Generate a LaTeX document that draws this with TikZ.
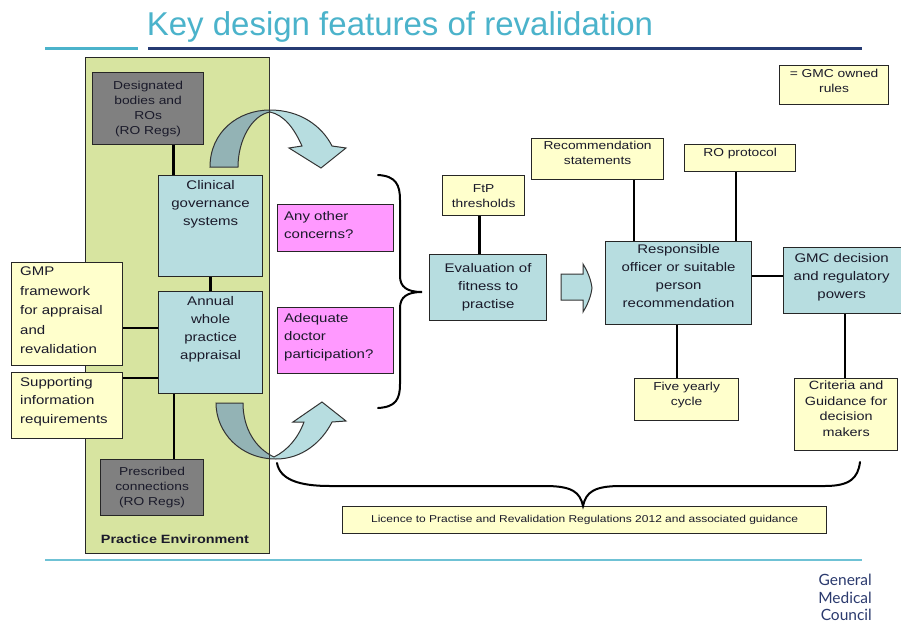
\documentclass[tikz,border=0pt]{standalone}
\usepackage{fontspec}
\setmainfont{Liberation Sans}
\newfontfamily\bxfont[FakeStretch=1.2]{Liberation Sans}
\newfontfamily\logofont{Lato}
\usetikzlibrary{calc}
\definecolor{penv}{HTML}{D7E4A0}
\definecolor{lblue}{HTML}{B7DDE0}
\definecolor{dteal}{HTML}{93B3B5}
\definecolor{gbox}{HTML}{808080}
\definecolor{ybox}{HTML}{FFFFCC}
\definecolor{pbox}{HTML}{FF99FF}
\definecolor{titlec}{HTML}{4BB3CB}
\definecolor{navy}{HTML}{263B73}
\definecolor{logoc}{HTML}{2B3A6E}
\definecolor{txt}{HTML}{1A1A2A}
\tikzset{
  box/.style={draw=black!85, line width=1.2pt, inner sep=0pt, anchor=north west, align=center, text=txt},
  yb/.style={box, fill=ybox},
  bb/.style={box, fill=lblue},
  gb/.style={box, fill=gbox},
  pb/.style={box, fill=pbox},
  small/.style={font=\bxfont\fontsize{11.5}{15}\selectfont},
  big/.style={font=\bxfont\fontsize{12.5}{18}\selectfont},
  tx/.style={inner sep=0pt, text=txt, align=center},
  link/.style={line width=2.6pt, black},
  brace/.style={line width=2pt, black, line cap=round},
  outl/.style={line width=1pt, black!80}
}
\begin{document}
\begin{tikzpicture}[x=1pt,y=-1pt]
\useasboundingbox (0,0) rectangle (901,624);
\fill[white] (0,0) rectangle (901,624);

% title and rules
\node[anchor=base, text=titlec, font=\fontsize{33}{36}\selectfont, inner sep=0pt] (title) at (400,35) {Key design features of revalidation};
\coordinate (l1a) at (45,48); \coordinate (l1b) at (138,48);
\coordinate (l2a) at (148,48); \coordinate (l2b) at (862,48);
\draw[titlec, line width=3pt] (l1a) -- (l1b);
\draw[navy, line width=3pt] (l2a) -- (l2b);
\coordinate (l3a) at (45,560); \coordinate (l3b) at (862,560);
\draw[titlec!80, line width=1.5pt] (l3a) -- (l3b);

% practice environment
\node[box, fill=penv, minimum width=184pt, minimum height=496pt] (pe) at (85,57) {};
\node[tx, font=\bxfont\bfseries\fontsize{12}{14}\selectfont, anchor=base] (pelab) at (175,543) {Practice Environment};

% curved arrows
\def\toparrow{(210,167) .. controls (210,132) and (238,110) .. (270,110) .. controls (300,110) and (322,126) .. (332,146) -- (346,148) -- (321,168) -- (289,148) -- (302,146) .. controls (294,128) and (284,115) .. (270,112) .. controls (252,115) and (238,140) .. (238,167) -- cycle}
\def\botarrow{(216,403) -- (243,403) .. controls (243,428) and (255,448) .. (274,457) .. controls (288,450) and (298,438) .. (304,422) -- (293,422) -- (322,402) -- (346,421) -- (332,422) .. controls (322,442) and (302,459) .. (276,459) .. controls (240,459) and (216,432) .. (216,403) -- cycle}
\fill[lblue] \toparrow;
\fill[lblue] \botarrow;
\begin{scope}
\clip (85,57) rectangle (269,553);
\fill[dteal] \toparrow;
\fill[dteal] \botarrow;
\end{scope}
\draw[outl] \toparrow;
\draw[outl] \botarrow;
\draw[black!80, line width=1pt] (269,57) -- (269,553);

% left boxes
\node[gb, small, minimum width=111pt, minimum height=72pt] (des) at (92,72) {Designated\\bodies and\\ROs\\(RO Regs)};
\node[bb, minimum width=104pt, minimum height=101pt] (cg) at (158,175) {};
\node[tx, big, anchor=north] (cgt) at ($(cg.north)+(0,5)$) {Clinical\\governance\\systems};
\node[bb, minimum width=104pt, minimum height=102pt] (awp) at (158,291) {};
\node[tx, big, anchor=north] (awpt) at ($(awp.north)+(0,5)$) {Annual\\whole\\practice\\appraisal};
\node[yb, minimum width=111pt, minimum height=103pt] (gmp) at (11,262) {};
\node[tx, anchor=north west, align=left, font=\bxfont\fontsize{12.5}{19.5}\selectfont] (gmpt) at ($(gmp.north west)+(9,5)$) {GMP\\framework\\for appraisal\\and\\revalidation};
\node[yb, minimum width=111pt, minimum height=66pt] (sup) at (11,372) {};
\node[tx, anchor=north west, align=left, font=\bxfont\fontsize{12.5}{18.5}\selectfont] (supt) at ($(sup.north west)+(9,5)$) {Supporting\\information\\requirements};
\node[gb, small, minimum width=103pt, minimum height=56pt] (pre) at (100,459) {Prescribed\\connections\\(RO Regs)};

\draw[link] ([xshift=25.5pt]des.south) -- ([xshift=25.5pt]des.south |- cg.north);
\draw[link] ([xshift=-0pt]cg.south) -- (awp.north);
\draw[link] (gmp.east |- 0,328) -- (awp.west |- 0,328);
\draw[link] (sup.east |- 0,378) -- (awp.west |- 0,378);
\draw[link] ([xshift=-36.5pt]awp.south) -- ([xshift=-36.5pt]awp.south |- pre.north);

% pink boxes
\node[pb, minimum width=116pt, minimum height=47pt] (any) at (277,204) {};
\node[tx, anchor=north west, align=left, big] (anyt) at ($(any.north west)+(7,7)$) {Any other\\concerns?};
\node[pb, minimum width=116pt, minimum height=66pt] (adq) at (277,307) {};
\node[tx, anchor=north west, align=left, big] (adqt) at ($(adq.north west)+(7,6)$) {Adequate\\doctor\\participation?};

% right brace
\draw[brace] (378,175) .. controls (396,176) and (400,185) .. (400,200) -- (400,276) .. controls (400,287) and (407,292) .. (422,292) .. controls (407,292) and (400,297) .. (400,308) -- (400,384) .. controls (400,399) and (396,407) .. (378,408);

% middle / right boxes
\node[yb, small, minimum width=82pt, minimum height=40pt] (ftp) at (442,175) {FtP\\thresholds};
\node[bb, big, minimum width=117pt, minimum height=66pt] (eval) at (429,254) {Evaluation of\\fitness to\\practise};
\draw[link] ([xshift=-4pt]ftp.south) -- ([xshift=-4pt]ftp.south |- eval.north);

\draw[outl, fill=lblue] (561,274) -- (583,274) -- (583,264) .. controls (588,272) and (591,280) .. (592,288) .. controls (591,296) and (588,304) .. (583,312) -- (583,300) -- (561,300) -- cycle;

\node[yb, minimum width=132pt, minimum height=41pt] (rec) at (531,138) {};
\node[tx, small, anchor=north] (rect) at ($(rec.north)+(0,3)$) {Recommendation\\statements};
\node[yb, minimum width=111pt, minimum height=27pt] (rop) at (684,144) {};
\node[tx, small, anchor=north] (ropt) at ($(rop.north)+(0,4)$) {RO protocol};
\node[bb, minimum width=146pt, minimum height=83pt] (resp) at (605,241) {};
\node[tx, big, anchor=north] (respt) at ($(resp.north)+(0,3)$) {Responsible\\officer or suitable\\person\\recommendation};
\node[bb, minimum width=120pt, minimum height=66pt] (gmc) at (783,247) {};
\node[tx, big, anchor=north] (gmct) at ($(gmc.north)+(-2,6)$) {GMC decision\\and regulatory\\powers};
\node[yb, minimum width=104pt, minimum height=42pt] (five) at (634,378) {};
\node[tx, small, anchor=north] (fivet) at ($(five.north)+(0,4)$) {Five yearly\\cycle};
\node[yb, minimum width=103pt, minimum height=72pt] (crit) at (794,378) {};
\node[tx, anchor=north, font=\bxfont\fontsize{12}{15.5}\selectfont] (critt) at ($(crit.north)+(0,3)$) {Criteria and\\Guidance for\\decision\\makers};
\node[yb, minimum width=109pt, minimum height=39pt] (own) at (779,65) {};
\node[tx, small, anchor=north] (ownt) at ($(own.north)+(0,4)$) {= GMC owned\\rules};

\draw[link] (resp.north -| 634,0) -- (rec.south -| 634,0);
\draw[link] (resp.north -| 736,0) -- (rop.south -| 736,0);
\draw[link] (resp.east |- 0,276) -- (gmc.west |- 0,276);
\draw[link] (resp.south -| 677,0) -- (five.north -| 677,0);
\draw[link] (gmc.south -| 845,0) -- (crit.north -| 845,0);

% bottom brace and licence box
\node[yb, minimum width=484pt, minimum height=27pt, font=\bxfont\fontsize{10}{12}\selectfont] (lic) at (342,506) {Licence to Practise and Revalidation Regulations 2012 and associated guidance};
\draw[brace] (277,463) .. controls (280,480) and (300,486) .. (330,486) -- (545,486) .. controls (572,486) and (580,492) .. (lic.north -| 583,0) .. controls (586,492) and (594,486) .. (621,486) -- (825,486) .. controls (850,486) and (858,478) .. (860,462);

% logo
\node[anchor=north east, inner sep=0pt, align=right, text=logoc, font=\logofont\fontsize{15.5}{17.5}\selectfont] (logo) at (872,574) {General\\Medical\\Council};
\end{tikzpicture}
\end{document}
